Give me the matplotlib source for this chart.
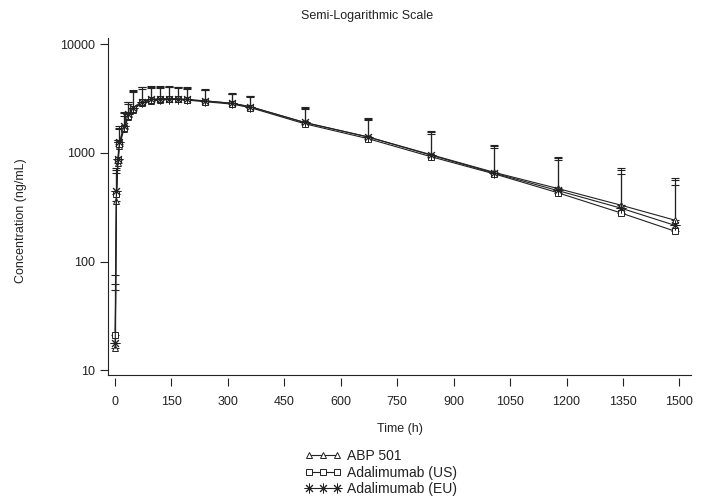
import matplotlib
matplotlib.use("Agg")
import matplotlib.pyplot as plt
from matplotlib.ticker import FixedLocator, NullLocator

plt.rcParams["font.family"] = ["Liberation Sans Narrow", "Liberation Sans", "DejaVu Sans"]

# sampling times (h)
times = [1, 4, 8, 12, 24, 36, 48, 72, 96, 120, 144, 168, 192, 240, 312, 360,
         504, 672, 840, 1008, 1176, 1344, 1488]

# mean concentration (ng/mL)
abp501 = [16, 360, 800, 1150, 1650, 2150, 2500, 2850, 3000, 3050, 3100, 3100,
          3050, 3000, 2850, 2650, 1900, 1400, 960, 660, 470, 330, 240]
adal_us = [21, 420, 850, 1200, 1700, 2200, 2550, 2900, 3050, 3100, 3100, 3100,
           3050, 2950, 2800, 2600, 1850, 1350, 920, 640, 430, 280, 190]
adal_eu = [18, 445, 870, 1250, 1750, 2250, 2600, 2950, 3100, 3150, 3150, 3150,
           3100, 3000, 2850, 2650, 1900, 1400, 950, 650, 450, 310, 215]

# mean + SD (upper error bar)
abp501_hi = [55, 650, 1250, 1650, 2200, 2800, 3600, 3900, 3950, 3950, 4000, 3950,
             3900, 3750, 3450, 3250, 2550, 2050, 1550, 1150, 900, 720, 590]
adal_us_hi = [75, 700, 1300, 1700, 2300, 2900, 3700, 4000, 4050, 4050, 4050, 4000,
              3950, 3800, 3500, 3300, 2600, 2000, 1500, 1100, 850, 640, 510]
adal_eu_hi = [62, 720, 1320, 1750, 2350, 2950, 3750, 4050, 4100, 4100, 4100, 4050,
              4000, 3850, 3550, 3350, 2650, 2100, 1600, 1170, 920, 700, 560]

series = [
    ("ABP 501", abp501, abp501_hi, "^", 5),
    ("Adalimumab (US)", adal_us, adal_us_hi, "s", 5),
    ("Adalimumab (EU)", adal_eu, adal_eu_hi, (8, 2, 0), 7),
]

xticks = [0, 150, 300, 450, 600, 750, 900, 1050, 1200, 1350, 1500]
yticks = [10, 100, 1000, 10000]

fig = plt.figure(figsize=(7.02, 4.97), dpi=100)
ax = fig.add_axes([0.154, 0.245, 0.83, 0.678])

ink = "#222222"
fs = 9
handles = []
for label, mean, hi, marker, ms in series:
    err = [m * 0 for m in mean], [h - m for h, m in zip(hi, mean)]
    ax.errorbar(times, mean, yerr=err, fmt="none", ecolor=ink, elinewidth=0.8,
                capsize=3, capthick=0.8, zorder=2)
    line, = ax.plot(times, mean, color=ink, lw=0.8, marker=marker, markersize=ms,
                    markerfacecolor="white", markeredgecolor=ink, markeredgewidth=0.7,
                    label=label, zorder=3)
    handles.append(line)

ax.set_yscale("log")
ax.set_xlim(-18, 1530)
ax.set_ylim(9.0, 11300)

ax.yaxis.set_major_locator(FixedLocator(yticks))
ax.yaxis.set_minor_locator(NullLocator())
ax.set_yticklabels([str(v) for v in yticks])
ax.set_xticks(xticks)
ax.set_xticklabels([str(v) for v in xticks])

for side in ["top", "right"]:
    ax.spines[side].set_visible(False)
ax.spines["left"].set_linewidth(0.8)
ax.spines["left"].set_color(ink)
# ticks below the x baseline, detached like base R
ax.spines["bottom"].set_visible(False)
ax.spines["bottom"].set_position(("outward", 2))
ax.plot([0, 1], [0, 0], transform=ax.transAxes, color=ink, lw=0.8, clip_on=False)

ax.tick_params(axis="both", length=6, width=0.8, color=ink, labelsize=fs,
               labelcolor=ink)
ax.tick_params(axis="x", pad=7)

ax.set_xlabel("Time (h)", fontsize=fs, color=ink, labelpad=11)
ax.set_ylabel("Concentration (ng/mL)", fontsize=fs, color=ink)
ax.yaxis.set_label_coords(-0.14, 0.46)
fig.text(0.523, 0.968, "Semi-Logarithmic Scale", ha="center", va="center",
         fontsize=fs, color=ink)

fig.legend(handles=handles, loc="upper left", bbox_to_anchor=(0.434, 0.096),
           frameon=False, numpoints=3, handlelength=2.6, handletextpad=0.45,
           labelspacing=0.18, fontsize=10, borderaxespad=0, borderpad=0,
           labelcolor=ink)

fig.savefig("out.png", dpi=100)
